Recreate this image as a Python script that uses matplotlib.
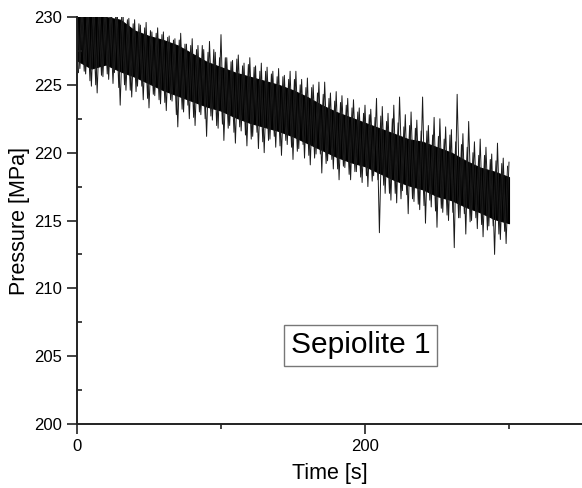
import matplotlib
matplotlib.use("Agg")
import matplotlib.pyplot as plt
from matplotlib.ticker import MultipleLocator

plt.rcParams["font.family"] = ["Liberation Sans", "DejaVu Sans"]

# dense core of the signal, read every 10 s
core_t = [0, 10, 20, 30, 40, 50, 60, 70, 80, 90, 100, 110, 120, 130, 140, 150,
          160, 170, 180, 190, 200, 210, 220, 230, 240, 250, 260, 270, 280, 290, 300]
core_top = [230.0, 230.0, 230.0, 229.8, 229.0, 228.6, 228.3, 227.9, 227.3, 226.7, 226.3,
            225.9, 225.6, 225.3, 225.0, 224.6, 224.1, 223.5, 223.0, 222.6, 222.2,
            221.8, 221.4, 221.0, 220.8, 220.4, 220.0, 219.4, 218.9, 218.6, 218.2]
core_bot = [226.8, 226.2, 226.5, 226.0, 225.6, 225.1, 224.6, 224.2, 223.8, 223.4, 223.1,
            222.6, 222.2, 221.9, 221.6, 221.2, 220.7, 220.2, 219.7, 219.3, 219.0,
            218.5, 218.0, 217.6, 217.3, 216.8, 216.5, 216.0, 215.6, 215.1, 214.8]

# large spike extremes, every 2 s (alternating up / down)
spike_t = list(range(0, 301, 2))
spike_v = [
    230.6, 226.2, 230.4, 225.8, 230.5, 224.9, 230.6, 224.4, 230.5, 225.6,
    230.6, 225.4, 230.5, 225.9, 230.3, 223.5, 230.2, 224.6, 229.9, 224.1,
    229.8, 224.9, 229.4, 223.9, 229.6, 223.3, 228.9, 224.2, 229.2, 223.6,
    228.9, 223.1, 228.6, 223.8, 228.4, 221.9, 228.8, 223.0, 228.0, 222.5,
    228.4, 222.0, 227.9, 222.8, 227.6, 221.2, 228.2, 222.4, 227.4, 221.8,
    228.7, 220.9, 227.0, 222.0, 226.8, 220.7, 227.2, 221.6, 226.6, 220.5,
    227.0, 221.2, 226.4, 220.3, 226.6, 220.0, 226.3, 221.0, 226.0, 220.4,
    226.2, 219.8, 225.7, 220.6, 226.0, 219.5, 226.0, 220.3, 225.4, 219.6,
    225.5, 219.1, 225.0, 219.9, 225.2, 218.5, 225.2, 219.4, 224.4, 218.8,
    224.5, 218.0, 224.2, 218.9, 224.0, 218.0, 223.9, 218.6, 223.3, 217.8,
    223.5, 217.5, 223.2, 218.3, 224.0, 214.1, 223.4, 217.0, 222.9, 216.5,
    223.5, 216.3, 224.1, 217.2, 222.8, 215.5, 223.0, 216.4, 222.4, 215.8,
    224.1, 214.8, 222.0, 216.0, 222.6, 214.5, 222.5, 215.6, 221.9, 215.0,
    221.7, 213.0, 224.3, 215.2, 221.4, 214.0, 222.3, 215.0, 220.8, 214.4,
    221.0, 213.8, 220.4, 214.6, 219.9, 212.5, 220.7, 213.6, 219.6, 213.3,
    219.3,
]

# smaller spikes in between, at odd seconds
small_t = list(range(1, 300, 2))
small_v = [
    225.9, 230.4, 226.0, 230.3, 225.3, 230.5, 225.0, 230.4, 225.7, 230.5,
    225.8, 230.4, 225.1, 230.5, 224.8, 230.0, 225.0, 229.8, 224.6, 229.5,
    224.5, 229.5, 224.9, 229.2, 224.0, 229.0, 224.3, 228.8, 223.9, 228.7,
    223.7, 228.5, 223.9, 228.3, 222.8, 228.3, 223.2, 228.0, 223.5, 227.9,
    222.6, 227.6, 223.0, 227.9, 222.5, 227.4, 222.7, 227.6, 222.0, 227.0,
    222.1, 227.0, 221.8, 226.7, 221.5, 226.9, 221.9, 226.4, 221.3, 226.5,
    221.0, 226.3, 221.5, 226.0, 220.8, 226.0, 220.9, 225.8, 221.2, 225.6,
    220.5, 225.6, 220.9, 225.4, 220.4, 225.4, 220.1, 225.0, 220.6, 224.8,
    219.8, 224.8, 219.6, 224.4, 219.9, 224.3, 219.2, 224.0, 219.5, 223.8,
    218.8, 223.7, 219.0, 223.5, 218.4, 223.3, 218.6, 223.0, 218.2, 222.9,
    218.3, 222.8, 217.9, 222.6, 218.0, 222.7, 217.6, 222.3, 217.0, 222.5,
    217.0, 222.2, 216.6, 221.9, 216.9, 222.0, 216.6, 221.8, 216.2, 221.6,
    216.1, 221.6, 216.5, 221.3, 215.7, 221.2, 215.9, 221.0, 215.4, 221.3,
    215.6, 220.8, 215.2, 220.6, 215.5, 220.4, 214.9, 220.0, 215.2, 219.8,
    214.7, 219.8, 214.3, 219.5, 214.6, 219.4, 214.0, 219.2, 214.2, 219.0,
]

fig = plt.figure(figsize=(5.82, 4.88), dpi=100)
ax = fig.add_axes([0.1323, 0.1311, 0.8677, 0.8341])

ax.fill_between(core_t, core_bot, core_top, color="black", lw=0.8)
ax.plot(spike_t, spike_v, color="#1a1a1a", lw=0.7)
ax.plot(small_t, small_v, color="#1a1a1a", lw=0.7)

ax.set_xlim(0, 350.7)
ax.set_ylim(200, 230)
ax.xaxis.set_major_locator(MultipleLocator(200))
ax.xaxis.set_minor_locator(MultipleLocator(100))
ax.yaxis.set_major_locator(MultipleLocator(5))
ax.yaxis.set_minor_locator(MultipleLocator(2.5))

for side in ["top", "right"]:
    ax.spines[side].set_visible(False)
for side in ["left", "bottom"]:
    ax.spines[side].set_linewidth(1.4)
    ax.spines[side].set_color("#222222")

ax.tick_params(which="major", direction="out", length=7, width=1.2, labelsize=12, color="#222222")
ax.tick_params(axis="x", which="minor", direction="out", length=3.5, width=1.2, color="#222222")
ax.tick_params(axis="y", which="minor", direction="in", length=3.5, width=1.2, color="#222222")

ax.set_xlabel("Time [s]", fontsize=15.5, labelpad=7)
ax.set_ylabel("Pressure [MPa]", fontsize=15.5, labelpad=3)

ax.text(197, 205.8, "Sepiolite 1", fontsize=21.5, ha="center", va="center",
        bbox=dict(boxstyle="square,pad=0.22", fc="white", ec="#777777", lw=1))

fig.savefig("out.png", dpi=100)
